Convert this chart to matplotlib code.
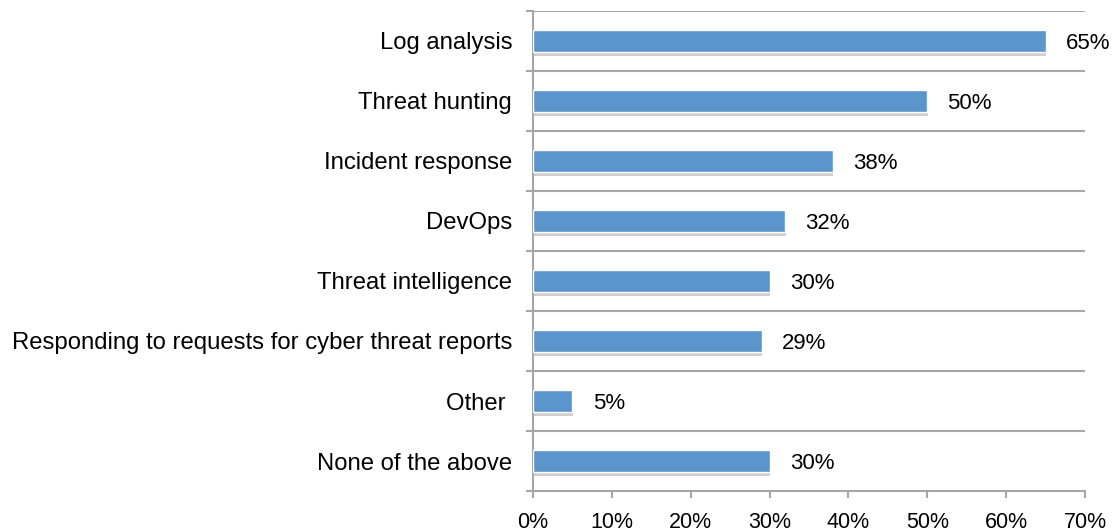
import numpy as np
import matplotlib.pyplot as plt
import matplotlib.patheffects as pe

categories = ['Log analysis', 'Threat hunting', 'Incident response', 'DevOps',
              'Threat intelligence', 'Responding to requests for cyber threat reports',
              'Other ', 'None of the above']
values = [65, 50, 38, 32, 30, 29, 5, 30]
xticks = [0, 10, 20, 30, 40, 50, 60, 70]

plt.rcParams['font.family'] = ['Liberation Sans', 'DejaVu Sans']

fig = plt.figure(figsize=(11.17, 5.31), dpi=100)
ax = fig.add_axes([533 / 1117, 1 - 491 / 531, 552 / 1117, 480 / 531])

grid_color = '#a6a6a6'
bar_color = '#5b95cb'

y = np.arange(len(categories))
bars = ax.barh(y, values, height=0.37, color=bar_color, edgecolor='white', linewidth=1.0,
               zorder=3,
               path_effects=[pe.SimplePatchShadow(offset=(0.5, -2.5), shadow_rgbFace='#8a8a8a', alpha=0.4),
                             pe.Normal()])

for bar, v in zip(bars, values):
    ax.annotate(f'{v}%', xy=(bar.get_width(), bar.get_y() + bar.get_height() / 2),
                xytext=(14.5, 0), textcoords='offset points',
                ha='left', va='center_baseline', fontsize=16)

ax.set_xlim(0, 70)
ax.set_ylim(len(categories) - 0.5, -0.5)

# gridlines at category boundaries
bounds = np.arange(-0.5, len(categories), 1.0)
for b in bounds[:-1]:
    ax.axhline(b, color=grid_color, linewidth=1.5, zorder=1)

ax.set_yticks(y)
ax.set_yticklabels(categories, fontsize=17.2)
ax.set_yticks(bounds, minor=True)
ax.tick_params(axis='y', which='major', length=0, pad=15)
ax.tick_params(axis='y', which='minor', length=5, width=1.5, color=grid_color)

ax.set_xticks(xticks)
ax.set_xticklabels([f'{t}%' for t in xticks], fontsize=15.5)
ax.tick_params(axis='x', which='major', length=5, width=1.5, color=grid_color, pad=10)

for side in ['top', 'right']:
    ax.spines[side].set_visible(False)
for side in ['left', 'bottom']:
    ax.spines[side].set_color(grid_color)
    ax.spines[side].set_linewidth(1.5)

fig.savefig('out.png', dpi=100)
